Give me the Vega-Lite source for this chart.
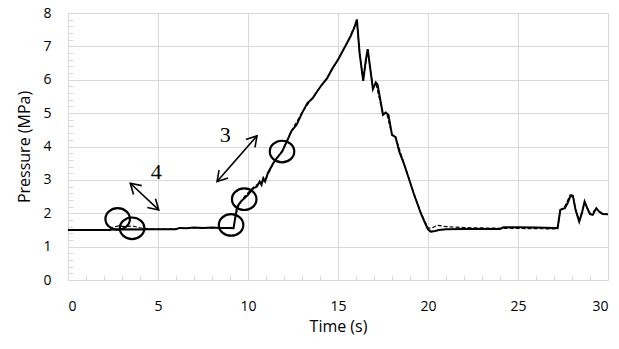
{
  "$schema": "https://vega.github.io/schema/vega-lite/v6.json",
  "autosize": "none",
  "width": 540,
  "height": 267,
  "padding": {"left": 68, "top": 13, "right": 11, "bottom": 69},
  "background": "white",
  "config": {
    "view": {"stroke": null},
    "axis": {
      "labelFont": "Open Sans",
      "titleFont": "Open Sans",
      "labelFontSize": 14,
      "titleFontSize": 16,
      "titleFontWeight": "normal",
      "labelColor": "#000000",
      "titleColor": "#000000",
      "domainColor": "#d9d9d9",
      "gridColor": "#d9d9d9",
      "tickColor": "#d9d9d9",
      "tickSize": -5,
      "labelPadding": 22,
      "labelOverlap": false,
      "tickCount": 100
    }
  },
  "datasets": {
    "curves": [
      {"t": 0, "P": 1.5, "series": "measured"},
      {"t": 2.3, "P": 1.5, "series": "measured"},
      {"t": 2.5, "P": 1.51, "series": "measured"},
      {"t": 3.0, "P": 1.51, "series": "measured"},
      {"t": 3.5, "P": 1.52, "series": "measured"},
      {"t": 4.0, "P": 1.51, "series": "measured"},
      {"t": 4.5, "P": 1.52, "series": "measured"},
      {"t": 5.0, "P": 1.52, "series": "measured"},
      {"t": 5.5, "P": 1.52, "series": "measured"},
      {"t": 6.0, "P": 1.52, "series": "measured"},
      {"t": 6.2, "P": 1.56, "series": "measured"},
      {"t": 6.6, "P": 1.55, "series": "measured"},
      {"t": 7.0, "P": 1.57, "series": "measured"},
      {"t": 7.5, "P": 1.56, "series": "measured"},
      {"t": 8.0, "P": 1.57, "series": "measured"},
      {"t": 8.5, "P": 1.56, "series": "measured"},
      {"t": 9.0, "P": 1.56, "series": "measured"},
      {"t": 9.2, "P": 1.55, "series": "measured"},
      {"t": 9.3, "P": 1.9, "series": "measured"},
      {"t": 9.4, "P": 2.2, "series": "measured"},
      {"t": 9.6, "P": 2.35, "series": "measured"},
      {"t": 9.8, "P": 2.45, "series": "measured"},
      {"t": 10.0, "P": 2.55, "series": "measured"},
      {"t": 10.3, "P": 2.75, "series": "measured"},
      {"t": 10.5, "P": 2.8, "series": "measured"},
      {"t": 10.65, "P": 2.95, "series": "measured"},
      {"t": 10.75, "P": 2.85, "series": "measured"},
      {"t": 10.85, "P": 3.05, "series": "measured"},
      {"t": 10.95, "P": 2.95, "series": "measured"},
      {"t": 11.1, "P": 3.2, "series": "measured"},
      {"t": 11.4, "P": 3.5, "series": "measured"},
      {"t": 11.6, "P": 3.65, "series": "measured"},
      {"t": 11.9, "P": 3.85, "series": "measured"},
      {"t": 12.2, "P": 4.2, "series": "measured"},
      {"t": 12.4, "P": 4.45, "series": "measured"},
      {"t": 12.7, "P": 4.65, "series": "measured"},
      {"t": 13.0, "P": 5.0, "series": "measured"},
      {"t": 13.3, "P": 5.3, "series": "measured"},
      {"t": 13.6, "P": 5.45, "series": "measured"},
      {"t": 13.8, "P": 5.62, "series": "measured"},
      {"t": 14.1, "P": 5.85, "series": "measured"},
      {"t": 14.4, "P": 6.05, "series": "measured"},
      {"t": 14.7, "P": 6.35, "series": "measured"},
      {"t": 15.0, "P": 6.6, "series": "measured"},
      {"t": 15.3, "P": 6.9, "series": "measured"},
      {"t": 15.5, "P": 7.1, "series": "measured"},
      {"t": 15.7, "P": 7.3, "series": "measured"},
      {"t": 15.9, "P": 7.55, "series": "measured"},
      {"t": 16.05, "P": 7.8, "series": "measured"},
      {"t": 16.2, "P": 6.8, "series": "measured"},
      {"t": 16.4, "P": 5.97, "series": "measured"},
      {"t": 16.55, "P": 6.6, "series": "measured"},
      {"t": 16.65, "P": 6.92, "series": "measured"},
      {"t": 16.8, "P": 6.3, "series": "measured"},
      {"t": 16.94, "P": 5.72, "series": "measured"},
      {"t": 17.1, "P": 5.92, "series": "measured"},
      {"t": 17.2, "P": 5.85, "series": "measured"},
      {"t": 17.5, "P": 4.95, "series": "measured"},
      {"t": 17.65, "P": 5.02, "series": "measured"},
      {"t": 17.8, "P": 4.95, "series": "measured"},
      {"t": 18.0, "P": 4.35, "series": "measured"},
      {"t": 18.2, "P": 4.28, "series": "measured"},
      {"t": 18.4, "P": 3.85, "series": "measured"},
      {"t": 18.65, "P": 3.5, "series": "measured"},
      {"t": 18.9, "P": 3.1, "series": "measured"},
      {"t": 19.2, "P": 2.6, "series": "measured"},
      {"t": 19.4, "P": 2.3, "series": "measured"},
      {"t": 19.6, "P": 2.0, "series": "measured"},
      {"t": 19.8, "P": 1.75, "series": "measured"},
      {"t": 20.0, "P": 1.52, "series": "measured"},
      {"t": 20.15, "P": 1.45, "series": "measured"},
      {"t": 20.4, "P": 1.47, "series": "measured"},
      {"t": 20.6, "P": 1.5, "series": "measured"},
      {"t": 21.0, "P": 1.52, "series": "measured"},
      {"t": 22.0, "P": 1.53, "series": "measured"},
      {"t": 23.0, "P": 1.53, "series": "measured"},
      {"t": 24.0, "P": 1.53, "series": "measured"},
      {"t": 24.2, "P": 1.58, "series": "measured"},
      {"t": 25.0, "P": 1.58, "series": "measured"},
      {"t": 26.0, "P": 1.57, "series": "measured"},
      {"t": 27.0, "P": 1.56, "series": "measured"},
      {"t": 27.2, "P": 1.56, "series": "measured"},
      {"t": 27.35, "P": 2.1, "series": "measured"},
      {"t": 27.6, "P": 2.15, "series": "measured"},
      {"t": 27.75, "P": 2.3, "series": "measured"},
      {"t": 27.9, "P": 2.5, "series": "measured"},
      {"t": 28.05, "P": 2.52, "series": "measured"},
      {"t": 28.2, "P": 2.1, "series": "measured"},
      {"t": 28.4, "P": 1.75, "series": "measured"},
      {"t": 28.55, "P": 2.0, "series": "measured"},
      {"t": 28.7, "P": 2.35, "series": "measured"},
      {"t": 28.85, "P": 2.15, "series": "measured"},
      {"t": 29.0, "P": 1.97, "series": "measured"},
      {"t": 29.15, "P": 1.95, "series": "measured"},
      {"t": 29.35, "P": 2.15, "series": "measured"},
      {"t": 29.5, "P": 2.05, "series": "measured"},
      {"t": 29.7, "P": 1.98, "series": "measured"},
      {"t": 30.0, "P": 1.97, "series": "measured"},
      {"t": 0, "P": 1.5, "series": "simulated"},
      {"t": 2.3, "P": 1.5, "series": "simulated"},
      {"t": 2.5, "P": 1.58, "series": "simulated"},
      {"t": 2.8, "P": 1.62, "series": "simulated"},
      {"t": 3.2, "P": 1.6, "series": "simulated"},
      {"t": 3.6, "P": 1.62, "series": "simulated"},
      {"t": 4.0, "P": 1.56, "series": "simulated"},
      {"t": 4.5, "P": 1.53, "series": "simulated"},
      {"t": 5.0, "P": 1.52, "series": "simulated"},
      {"t": 6.0, "P": 1.53, "series": "simulated"},
      {"t": 6.2, "P": 1.55, "series": "simulated"},
      {"t": 7.0, "P": 1.56, "series": "simulated"},
      {"t": 8.0, "P": 1.56, "series": "simulated"},
      {"t": 9.0, "P": 1.57, "series": "simulated"},
      {"t": 9.2, "P": 1.58, "series": "simulated"},
      {"t": 9.35, "P": 2.0, "series": "simulated"},
      {"t": 9.5, "P": 2.25, "series": "simulated"},
      {"t": 9.8, "P": 2.5, "series": "simulated"},
      {"t": 10.3, "P": 2.78, "series": "simulated"},
      {"t": 10.6, "P": 2.9, "series": "simulated"},
      {"t": 10.8, "P": 2.95, "series": "simulated"},
      {"t": 11.0, "P": 3.05, "series": "simulated"},
      {"t": 11.4, "P": 3.48, "series": "simulated"},
      {"t": 11.9, "P": 3.88, "series": "simulated"},
      {"t": 12.4, "P": 4.45, "series": "simulated"},
      {"t": 13.0, "P": 5.02, "series": "simulated"},
      {"t": 13.8, "P": 5.62, "series": "simulated"},
      {"t": 14.4, "P": 6.05, "series": "simulated"},
      {"t": 15.0, "P": 6.6, "series": "simulated"},
      {"t": 15.5, "P": 7.1, "series": "simulated"},
      {"t": 16.05, "P": 7.76, "series": "simulated"},
      {"t": 16.2, "P": 6.8, "series": "simulated"},
      {"t": 16.4, "P": 6.0, "series": "simulated"},
      {"t": 16.65, "P": 6.9, "series": "simulated"},
      {"t": 16.94, "P": 5.75, "series": "simulated"},
      {"t": 17.1, "P": 5.9, "series": "simulated"},
      {"t": 17.5, "P": 4.97, "series": "simulated"},
      {"t": 17.7, "P": 5.0, "series": "simulated"},
      {"t": 18.0, "P": 4.35, "series": "simulated"},
      {"t": 18.2, "P": 4.28, "series": "simulated"},
      {"t": 18.65, "P": 3.52, "series": "simulated"},
      {"t": 19.2, "P": 2.62, "series": "simulated"},
      {"t": 19.6, "P": 2.02, "series": "simulated"},
      {"t": 20.0, "P": 1.56, "series": "simulated"},
      {"t": 20.2, "P": 1.55, "series": "simulated"},
      {"t": 20.5, "P": 1.64, "series": "simulated"},
      {"t": 21.0, "P": 1.6, "series": "simulated"},
      {"t": 22.0, "P": 1.57, "series": "simulated"},
      {"t": 24.0, "P": 1.55, "series": "simulated"},
      {"t": 27.2, "P": 1.53, "series": "simulated"},
      {"t": 27.35, "P": 2.1, "series": "simulated"},
      {"t": 27.6, "P": 2.2, "series": "simulated"},
      {"t": 27.9, "P": 2.55, "series": "simulated"},
      {"t": 28.05, "P": 2.55, "series": "simulated"},
      {"t": 28.2, "P": 2.1, "series": "simulated"},
      {"t": 28.4, "P": 1.78, "series": "simulated"},
      {"t": 28.7, "P": 2.32, "series": "simulated"},
      {"t": 29.0, "P": 1.98, "series": "simulated"},
      {"t": 29.35, "P": 2.12, "series": "simulated"},
      {"t": 29.7, "P": 1.98, "series": "simulated"},
      {"t": 30.0, "P": 1.97, "series": "simulated"}
    ],
    "circles": [
      {"t": 2.76, "P": 1.83},
      {"t": 3.56, "P": 1.55},
      {"t": 9.06, "P": 1.65},
      {"t": 9.79, "P": 2.42},
      {"t": 11.89, "P": 3.85}
    ],
    "arrows": [
      {"id": "4", "t1": 3.46, "P1": 2.9, "t2": 5.04, "P2": 2.1},
      {"id": "3", "t1": 8.28, "P1": 2.95, "t2": 10.5, "P2": 4.32}
    ],
    "labels": [
      {"text": "4", "t": 4.9, "P": 3.25},
      {"text": "3", "t": 8.74, "P": 4.35}
    ]
  },
  "layer": [
    {
      "data": {"name": "curves"},
      "transform": [{"filter": "datum.series === 'measured'"}],
      "mark": {"type": "line", "color": "#000000", "strokeWidth": 2, "clip": true},
      "encoding": {
        "x": {
          "field": "t", "type": "quantitative",
          "scale": {"domain": [0, 30], "nice": false},
          "axis": {
            "title": "Time (s)",
            "values": [0,1,2,3,4,5,6,7,8,9,10,11,12,13,14,15,16,17,18,19,20,21,22,23,24,25,26,27,28,29,30],
            "tickCount": 100,
            "labelPadding": 24,
            "labelExpr": "datum.value % 5 === 0 ? format(datum.value, 'd') : ''",
            "gridOpacity": {"condition": {"test": "datum.value % 5 === 0", "value": 1}, "value": 0},
            "titlePadding": 5
          }
        },
        "y": {
          "field": "P", "type": "quantitative",
          "scale": {"domain": [0, 8], "nice": false},
          "axis": {
            "title": "Pressure (MPa)",
            "values": [0,0.2,0.4,0.6,0.8,1,1.2,1.4,1.6,1.8,2,2.2,2.4,2.6,2.8,3,3.2,3.4,3.6,3.8,4,4.2,4.4,4.6,4.8,5,5.2,5.4,5.6,5.8,6,6.2,6.4,6.6,6.8,7,7.2,7.4,7.6,7.8,8],
            "tickCount": 100,
            "labelExpr": "abs(datum.value - round(datum.value)) < 0.001 ? format(datum.value, 'd') : ''",
            "gridOpacity": {"condition": {"test": "abs(datum.value - round(datum.value)) < 0.001", "value": 1}, "value": 0},
            "titlePadding": 10
          }
        }
      }
    },
    {
      "data": {"name": "curves"},
      "transform": [{"filter": "datum.series === 'simulated'"}],
      "mark": {"type": "line", "color": "#000000", "strokeWidth": 1.2, "strokeDash": [4, 2], "clip": true},
      "encoding": {
        "x": {"field": "t", "type": "quantitative"},
        "y": {"field": "P", "type": "quantitative"}
      }
    },
    {
      "data": {"name": "circles"},
      "mark": {"type": "point", "shape": "M -1 0 A 1 0.88 0 1 1 1 0 A 1 0.88 0 1 1 -1 0 Z", "filled": false, "color": "#000000", "strokeWidth": 2.2, "size": 600, "opacity": 1},
      "encoding": {
        "x": {"field": "t", "type": "quantitative"},
        "y": {"field": "P", "type": "quantitative"}
      }
    },
    {
      "data": {"name": "arrows"},
      "mark": {"type": "rule", "color": "#000000", "strokeWidth": 1.6},
      "encoding": {
        "x": {"field": "t1", "type": "quantitative"},
        "y": {"field": "P1", "type": "quantitative"},
        "x2": {"field": "t2"},
        "y2": {"field": "P2"}
      }
    },
    {
      "data": {"name": "arrows"},
      "transform": [{"filter": "datum.id === '4'"}],
      "mark": {"type": "point", "shape": "M -1 -0.6 L 0 0 L -1 0.6", "filled": false, "color": "#000000", "strokeWidth": 1.6, "size": 400, "angle": 43, "opacity": 1},
      "encoding": {
        "x": {"field": "t2", "type": "quantitative"},
        "y": {"field": "P2", "type": "quantitative"}
      }
    },
    {
      "data": {"name": "arrows"},
      "transform": [{"filter": "datum.id === '4'"}],
      "mark": {"type": "point", "shape": "M -1 -0.6 L 0 0 L -1 0.6", "filled": false, "color": "#000000", "strokeWidth": 1.6, "size": 400, "angle": 223, "opacity": 1},
      "encoding": {
        "x": {"field": "t1", "type": "quantitative"},
        "y": {"field": "P1", "type": "quantitative"}
      }
    },
    {
      "data": {"name": "arrows"},
      "transform": [{"filter": "datum.id === '3'"}],
      "mark": {"type": "point", "shape": "M -1 -0.6 L 0 0 L -1 0.6", "filled": false, "color": "#000000", "strokeWidth": 1.6, "size": 400, "angle": 311, "opacity": 1},
      "encoding": {
        "x": {"field": "t2", "type": "quantitative"},
        "y": {"field": "P2", "type": "quantitative"}
      }
    },
    {
      "data": {"name": "arrows"},
      "transform": [{"filter": "datum.id === '3'"}],
      "mark": {"type": "point", "shape": "M -1 -0.6 L 0 0 L -1 0.6", "filled": false, "color": "#000000", "strokeWidth": 1.6, "size": 400, "angle": 131, "opacity": 1},
      "encoding": {
        "x": {"field": "t1", "type": "quantitative"},
        "y": {"field": "P1", "type": "quantitative"}
      }
    },
    {
      "data": {"name": "labels"},
      "mark": {"type": "text", "font": "Liberation Serif", "fontSize": 22, "color": "#000000", "align": "center", "baseline": "middle"},
      "encoding": {
        "x": {"field": "t", "type": "quantitative"},
        "y": {"field": "P", "type": "quantitative"},
        "text": {"field": "text"}
      }
    }
  ]
}
